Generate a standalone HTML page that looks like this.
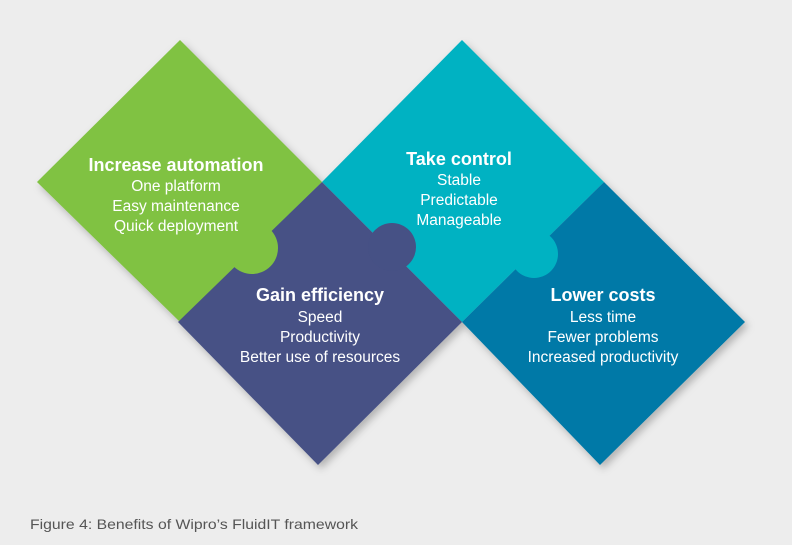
<!DOCTYPE html>
<html><head><style>
body{margin:0;background:#ededed;width:792px;height:540px;overflow:hidden;font-family:"Liberation Sans",sans-serif;}
</style></head><body>
<svg width="792" height="540" viewBox="0 0 792 540" xmlns="http://www.w3.org/2000/svg">
<defs><filter id="s" x="-20%" y="-20%" width="140%" height="140%"><feDropShadow dx="3" dy="4" stdDeviation="4" flood-color="#000" flood-opacity="0.25"/></filter></defs>
<rect width="792" height="540" fill="#ededed"/>
<g filter="url(#s)">
<polygon points="37,182 180,40 322,182 180,322" fill="#80c242"/>
<polygon points="322,182 462,40 604,182 462,322" fill="#00b2c2"/>
<polygon points="322,182 462,322 318,465 178,322" fill="#465185"/>
<polygon points="604,182 745,322 600,465 462,322" fill="#0079a7"/>
</g>
<circle cx="252" cy="248" r="26" fill="#80c242"/>
<circle cx="392" cy="247" r="24" fill="#465185"/>
<circle cx="534" cy="254" r="24" fill="#00b2c2"/>
<g fill="#fff" text-anchor="middle" font-family="Liberation Sans, sans-serif">
<text x="176" y="171" font-size="18" font-weight="bold">Increase automation</text>
<text x="176" y="191" font-size="15.5">One platform</text>
<text x="176" y="211" font-size="15.5">Easy maintenance</text>
<text x="176" y="231" font-size="15.5">Quick deployment</text>
<text x="459" y="165" font-size="18" font-weight="bold">Take control</text>
<text x="459" y="185" font-size="15.5">Stable</text>
<text x="459" y="205" font-size="15.5">Predictable</text>
<text x="459" y="225" font-size="15.5">Manageable</text>
<text x="320" y="301" font-size="18" font-weight="bold">Gain efficiency</text>
<text x="320" y="322" font-size="15.5">Speed</text>
<text x="320" y="342" font-size="15.5">Productivity</text>
<text x="320" y="362" font-size="15.5">Better use of resources</text>
<text x="603" y="301" font-size="18" font-weight="bold">Lower costs</text>
<text x="603" y="322" font-size="15.5">Less time</text>
<text x="603" y="342" font-size="15.5">Fewer problems</text>
<text x="603" y="362" font-size="15.5">Increased productivity</text>
</g>
<text x="30" y="529" font-size="14" fill="#555" textLength="328" lengthAdjust="spacingAndGlyphs">Figure 4: Benefits of Wipro’s FluidIT framework</text>
</svg>
</body></html>
